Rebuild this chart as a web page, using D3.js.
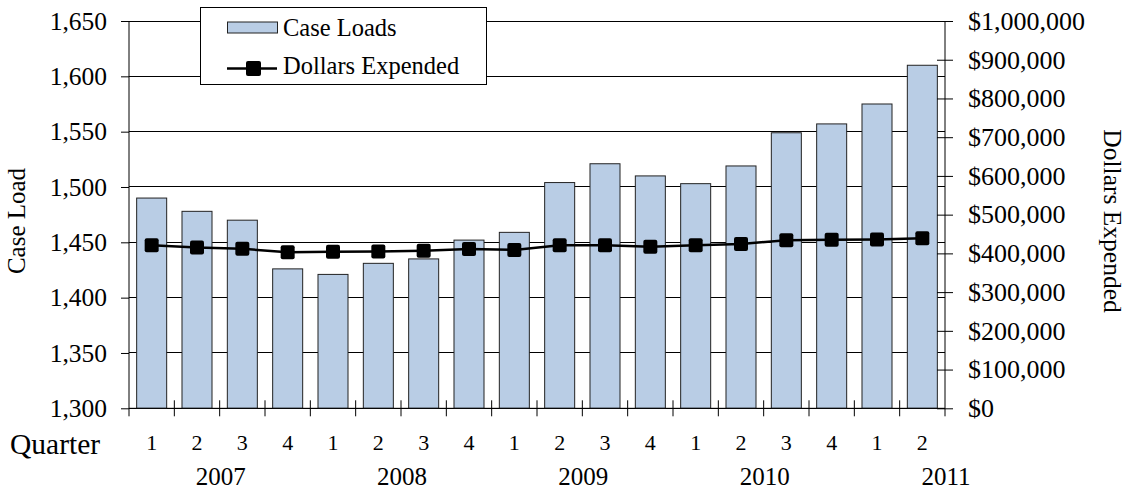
<!DOCTYPE html>
<html>
<head>
<meta charset="utf-8">
<script src="https://cdn.jsdelivr.net/npm/d3@7"></script>
<style>
  html, body { margin: 0; padding: 0; background: #fff; }
  svg { display: block; }
  svg text { font-family: "Liberation Serif", "Times New Roman", "DejaVu Serif", serif; fill: #000; }
</style>
</head>
<body>
<svg id="chart" width="1126" height="491" font-family="Liberation Serif, Times New Roman, serif"></svg>
<script>
const quarters = ["1","2","3","4","1","2","3","4","1","2","3","4","1","2","3","4","1","2"];
const years = ["2007","2008","2009","2010","2011"];
const caseLoads = [1490,1478,1470,1426,1421,1431,1435,1452,1459,1504,1521,1510,1503,1519,1549,1557,1575,1610];
const dollars = [421000,415000,412000,403000,404000,405000,407000,411000,409000,421000,421000,417000,421000,424000,434000,435000,436000,439000];
const leftTicks = [1300,1350,1400,1450,1500,1550,1600,1650];
const rightTicks = [0,100000,200000,300000,400000,500000,600000,700000,800000,900000,1000000];
const seriesNames = ["Case Loads","Dollars Expended"];

const L = 129, R = 945, T = 21, B = 408.3;
const barFill = "#b9cde5";
const FF = "Liberation Serif, Times New Roman, serif";

const svg = d3.select("#chart");
const idx = d3.range(caseLoads.length);
const x = d3.scaleBand().domain(idx).range([L, R]).paddingInner(0.338).paddingOuter(0.169);
const yL = d3.scaleLinear().domain([1300, 1650]).range([B, T]);
const yR = d3.scaleLinear().domain([0, 1000000]).range([B, T]);

// gridlines
svg.append("g").selectAll("line").data(leftTicks).join("line")
  .attr("x1", L).attr("x2", R)
  .attr("y1", d => yL(d)).attr("y2", d => yL(d))
  .attr("stroke", "#000").attr("stroke-width", 1).attr("shape-rendering", "crispEdges");

// bars
svg.append("g").selectAll("rect").data(caseLoads).join("rect")
  .attr("x", (d, i) => x(i)).attr("width", x.bandwidth())
  .attr("y", d => yL(d)).attr("height", d => yL(1300) - yL(d))
  .attr("fill", barFill).attr("stroke", "#222").attr("stroke-width", 1);

// left axis
const axL = svg.append("g").attr("transform", `translate(${L},0)`)
  .call(d3.axisLeft(yL).tickValues(leftTicks).tickFormat(d3.format(",")).tickSize(8).tickPadding(14));
axL.attr("font-family", FF);
axL.select(".domain").remove();
axL.selectAll(".tick line").attr("stroke", "#000");
axL.selectAll(".tick text").attr("font-size", 25.5).attr("font-family", FF).attr("fill", "#000");
svg.append("line").attr("x1", L).attr("x2", L).attr("y1", T).attr("y2", B + 8).attr("stroke", "#000");

// right axis
const axR = svg.append("g").attr("transform", `translate(${R},0)`)
  .call(d3.axisRight(yR).tickValues(rightTicks).tickFormat(d => "$" + d3.format(",")(d)).tickSize(8).tickPadding(15));
axR.attr("font-family", FF);
axR.select(".domain").remove();
axR.selectAll(".tick line").attr("x1", -8).attr("x2", 8).attr("stroke", "#000");
axR.selectAll(".tick text").attr("font-size", 26).attr("font-family", FF).attr("fill", "#000");
svg.append("line").attr("x1", R).attr("x2", R).attr("y1", T).attr("y2", B + 8).attr("stroke", "#000");

// x axis
svg.append("line").attr("x1", L).attr("x2", R).attr("y1", B).attr("y2", B).attr("stroke", "#000");
svg.append("g").selectAll("line").data(d3.range(1, caseLoads.length)).join("line")
  .attr("x1", i => x(i) - x.step() * x.paddingInner() / 2).attr("x2", i => x(i) - x.step() * x.paddingInner() / 2)
  .attr("y1", B - 8).attr("y2", B + 8).attr("stroke", "#000");

svg.append("g").selectAll("text").data(quarters).join("text")
  .attr("x", (d, i) => x(i) + x.bandwidth() / 2).attr("y", 450)
  .attr("text-anchor", "middle").attr("font-size", 22).attr("font-family", FF).text(d => d);

svg.append("g").selectAll("text").data(years).join("text")
  .attr("x", (d, i) => L + x.step() * (2 + 4 * i) + 1).attr("y", 485)
  .attr("text-anchor", "middle").attr("font-size", 25).attr("font-family", FF).text(d => d);

svg.append("text").attr("x", 10).attr("y", 454).attr("font-size", 29.5).attr("font-family", FF).text("Quarter");

// axis titles
svg.append("text").attr("transform", "translate(25,221) rotate(-90)")
  .attr("text-anchor", "middle").attr("font-size", 25).attr("font-family", FF).text("Case Load");
svg.append("text").attr("transform", "translate(1104,221) rotate(90)")
  .attr("text-anchor", "middle").attr("font-size", 25.5).attr("font-family", FF).text("Dollars Expended");

// line
const line = d3.line().x((d, i) => x(i) + x.bandwidth() / 2).y(d => yR(d));
svg.append("path").datum(dollars).attr("d", line)
  .attr("fill", "none").attr("stroke", "#000").attr("stroke-width", 2.5);
const ms = 14;
svg.append("g").selectAll("rect").data(dollars).join("rect")
  .attr("x", (d, i) => x(i) + x.bandwidth() / 2 - ms / 2).attr("y", d => yR(d) - ms / 2)
  .attr("width", ms).attr("height", ms).attr("rx", 2).attr("fill", "#000");

// legend
const lg = svg.append("g");
lg.append("rect").attr("x", 200.5).attr("y", 7.5).attr("width", 286).attr("height", 77)
  .attr("fill", "#fff").attr("stroke", "#000").attr("stroke-width", 1);
lg.append("rect").attr("x", 227.5).attr("y", 22).attr("width", 50).attr("height", 11)
  .attr("fill", barFill).attr("stroke", "#222");
lg.append("text").attr("x", 283).attr("y", 36).attr("font-size", 24.5).attr("font-family", FF).text(seriesNames[0]);
lg.append("line").attr("x1", 227).attr("x2", 277).attr("y1", 68.5).attr("y2", 68.5)
  .attr("stroke", "#000").attr("stroke-width", 2.5);
lg.append("rect").attr("x", 246).attr("y", 61).attr("width", 15).attr("height", 15).attr("rx", 2).attr("fill", "#000");
lg.append("text").attr("x", 283).attr("y", 74).attr("font-size", 24.5).attr("font-family", FF).text(seriesNames[1]);
</script>
</body>
</html>
